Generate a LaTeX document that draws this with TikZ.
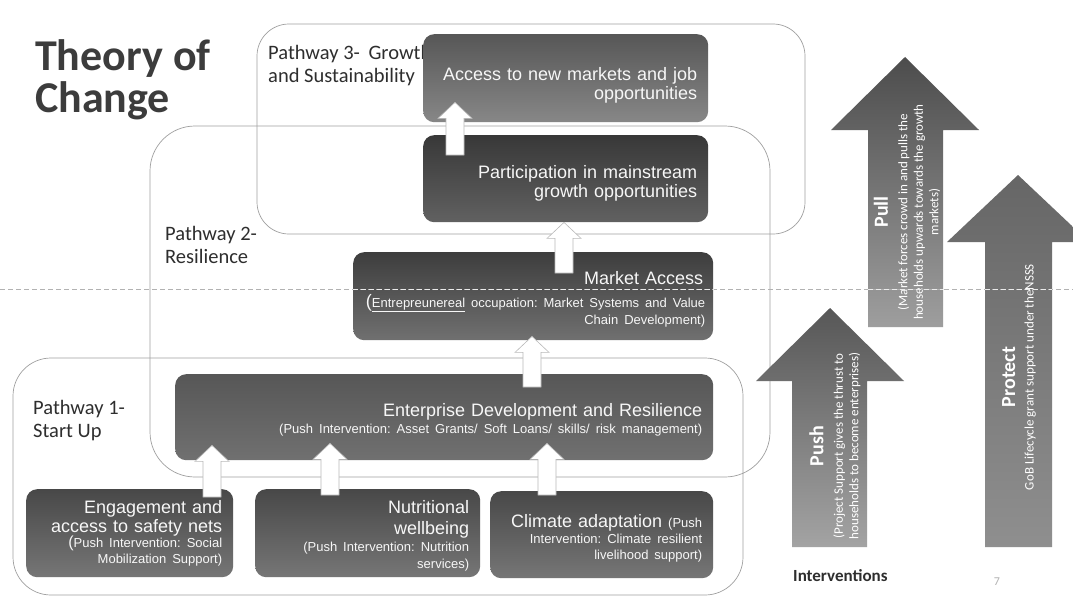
\documentclass[tikz,border=0pt]{standalone}
\usepackage{fontspec}
\setmainfont{Liberation Sans}
\newfontfamily\calfont{Carlito}
\usetikzlibrary{calc}
\definecolor{titlegray}{HTML}{3C3C3C}
\definecolor{labgray}{HTML}{2E2E2E}
\definecolor{linegray}{HTML}{A0A0A0}
\definecolor{boxtop}{HTML}{484848}
\definecolor{boxbot}{HTML}{767676}
\definecolor{boxtxt}{HTML}{F7F7F7}
\newcommand\BoxBig{\fontsize{18}{19}\selectfont}
\newcommand\BoxSmall{\fontsize{13}{15.5}\selectfont}
\newcommand\RLset{\raggedleft\frenchspacing\hyphenpenalty=10000\relax}
\newcommand\TopStrut[1]{\rule{0pt}{#1pt}}
\newcommand\WArr[5]{%
  \path (#3,0) coordinate (wa-x);
  \path (wa-x |- #1.north) ++(0,#4) coordinate (wa-t);
  \path (wa-x |- #2.south) ++(0,#5) coordinate (wa-h);
  \draw[warrow] let \p1=(wa-t), \p2=(wa-h) in
    (\x1-9pt,\y1) -- (\x1-9pt,\y2-16pt) -- (\x1-17pt,\y2-16pt) -- (\x1,\y2)
    -- (\x1+17pt,\y2-16pt) -- (\x1+9pt,\y2-16pt) -- (\x1+9pt,\y1) -- cycle;
}
\begin{document}
\begin{tikzpicture}[x=1pt,y=-1pt,
  pathframe/.style={draw=linegray, line width=0.7pt},
  plabel/.style={anchor=base west, inner sep=0pt, align=left, font=\calfont\fontsize{20.5}{22.5}\selectfont, text=labgray},
  dbox/.style={anchor=north west, rounded corners=11pt, top color=boxtop, bottom color=boxbot,
    text=boxtxt, align=right, inner xsep=11pt, inner ysep=0pt, font=\BoxBig,
    execute at begin node=\RLset},
  warrow/.style={fill=white, draw=gray!55, line width=0.6pt},
  atext/.style={rotate=90, align=center, text=white, font=\calfont\fontsize{13}{15.5}\selectfont}
]
\useasboundingbox (0,0) rectangle (1073,602);
\clip (0,0) rectangle (1073,602);
\fill[white] (0,0) rectangle (1073,602);

% title (base anchor = last line)
\node[anchor=base west, inner sep=0pt, align=left, text=titlegray,
  font=\calfont\bfseries\fontsize{44}{42}\selectfont] (title) at (35,112) {Theory of\\Change};

% pathway frames
\draw[pathframe, rounded corners=32pt] (257,24) rectangle (805,234);
\draw[pathframe, rounded corners=45pt] (150,126) rectangle (770,477);
\draw[pathframe, rounded corners=38pt] (13,358) rectangle (743,595);

% pathway labels
\node[plabel] (p3lab) at (268,82) {Pathway 3-\hspace{4pt} Growth\\and Sustainability};
\node[plabel] (p2lab) at (165,263) {Pathway 2-\\Resilience};
\node[plabel] (p1lab) at (33,437) {Pathway 1-\\Start Up};

% dark boxes
\node[dbox, minimum height=88pt, text width=263pt, top color=black!66, bottom color=black!47] (access) at (423,34)
  {\TopStrut{27}Access to new markets and job\\opportunities};
\node[dbox, minimum height=87pt, text width=263pt, top color=black!78, bottom color=black!62] (part) at (423,135)
  {\TopStrut{22}Participation in mainstream\\growth opportunities};
\node[dbox, minimum height=88pt, text width=344pt, inner xsep=8pt, top color=black!76, bottom color=black!56] (market) at (353,252)
  {{\TopStrut{19}Market Access\hspace*{2pt}\par}\vspace{6pt}{\fontsize{13}{17}\selectfont{\fontsize{18}{19}\selectfont(}\underline{Entrepreunereal} occupation: Market Systems and Value\\Chain Development)\par}};
\node[dbox, minimum height=86pt, text width=516pt, top color=black!66, bottom color=black!56] (ent) at (175,374)
  {{\TopStrut{18}Enterprise Development and Resilience\par}\vspace{1.5pt}{\BoxSmall (Push Intervention: Asset Grants/ Soft Loans/ skills/ risk management)\par}};
\node[dbox, minimum height=88pt, text width=185pt] (eng) at (26,489)
  {{Engagement and\\access to safety nets\par}{\BoxSmall{\fontsize{16}{17}\selectfont(}Push Intervention: Social\\Mobilization Support)\par}};
\node[dbox, minimum height=88pt, text width=203pt] (nut) at (255,489)
  {{\fontsize{18}{21}\selectfont\TopStrut{18}Nutritional\\wellbeing\par}\vspace{1pt}{\fontsize{13}{16.5}\selectfont (Push Intervention: Nutrition\\services)\par}};
\node[dbox, minimum height=87pt, text width=201pt] (clim) at (490,491)
  {{\TopStrut{20}Climate adaptation {\BoxSmall (Push}\par}{\fontsize{13}{16}\selectfont Intervention: Climate resilient\\livelihood support)\par}};

% white block arrows
\WArr{part}{access}{455}{20}{-20}
\WArr{market}{part}{564}{21}{0}
\WArr{ent}{market}{532}{13}{-4}
\WArr{eng}{ent}{212}{8}{-15}
\WArr{nut}{ent}{330}{6}{-17}
\WArr{clim}{ent}{547}{4}{-17}

% intervention arrows
\shade[top color=black!70, bottom color=black!38]
  (868,327) -- (868,130) -- (831,130) -- (905,57) -- (979,130) -- (943,130) -- (943,327) -- cycle;
\shade[top color=black!66, bottom color=black!36]
  (792,547) -- (792,381) -- (756,381) -- (830,308) -- (904,381) -- (867,381) -- (867,547) -- cycle;
\shade[top color=black!60, bottom color=black!44]
  (985,547) -- (985,242) -- (947,242) -- (1018,175) -- (1089,242) -- (1052,242) -- (1052,547) -- cycle;

\node[atext] (pullt) at (907,212) {{\calfont\bfseries\fontsize{20}{22}\selectfont Pull}\\[4pt](Market forces crowd in and pulls the\\households upwards towards the growth\\markets)};
\node[atext] (pusht) at (835,446) {{\calfont\bfseries\fontsize{20}{22}\selectfont Push}\\[4pt](Project Support gives the thrust to\\households to become enterprises)};
\node[atext] (prott) at (1019,377) {{\calfont\bfseries\fontsize{20}{22}\selectfont Protect}\\[3pt]GoB Lifecycle grant support under theNSSS};

\node[anchor=west, inner sep=0pt, text=black!82, font=\calfont\bfseries\fontsize{17}{19}\selectfont] (interv) at (793,576) {Interventions};
\node[inner sep=0pt, text=black!30, font=\calfont\fontsize{12}{14}\selectfont] (pagenum) at (997,582) {7};

% dashed guide line
\draw[gray!60, line width=0.8pt, dash pattern=on 5pt off 3pt] (0,289) coordinate (dl-a) -- (1073,289) coordinate (dl-b);
\draw[white!92!black, line width=0.9pt, dash pattern=on 5pt off 3pt] (market.west |- dl-a) -- (market.east |- dl-a);
\draw[white!92!black, line width=0.9pt, dash pattern=on 5pt off 3pt] (868,289) -- (943,289);
\draw[white!92!black, line width=0.9pt, dash pattern=on 5pt off 3pt] (985,289) -- (1052,289);
\end{tikzpicture}
\end{document}
